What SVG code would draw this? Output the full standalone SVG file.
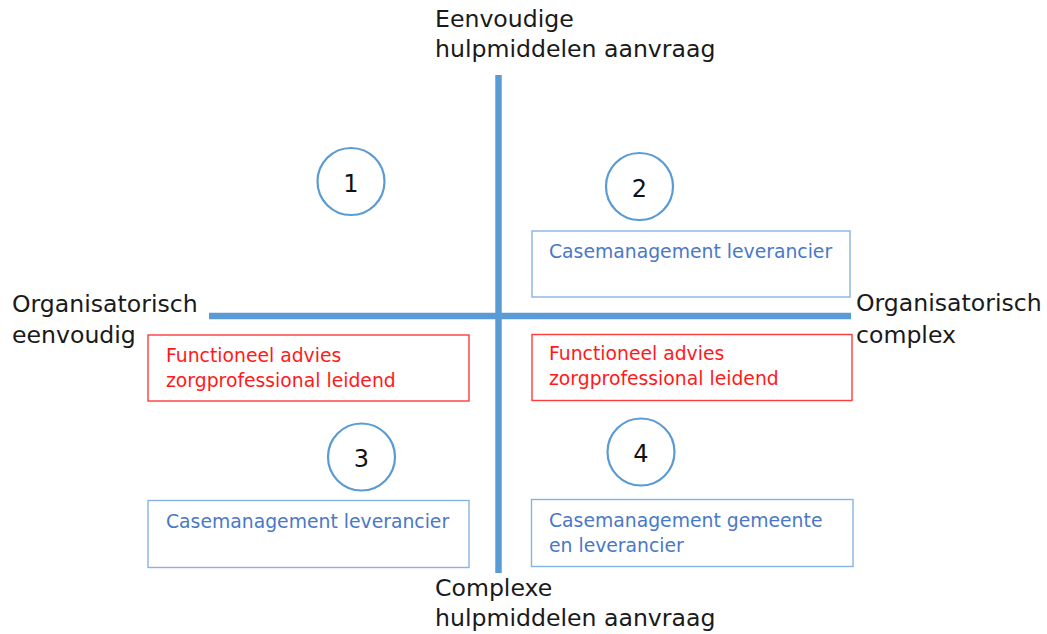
<svg xmlns="http://www.w3.org/2000/svg" width="1047" height="634" viewBox="0 0 1047 634">
<style>
.lbl{font-family:"DejaVu Sans","Verdana",sans-serif;font-size:23.6px;fill:#1a1a1a}
.num{font-family:"DejaVu Sans","Verdana",sans-serif;font-size:24px;fill:#111;text-anchor:middle}
.bt{font-family:"DejaVu Sans","Verdana",sans-serif;font-size:18.8px}
.blue{fill:#4a78c8}
.red{fill:#ff1a1a}
.circ{fill:#fff;stroke:#5b9bd5;stroke-width:2.2}
.bbox{fill:#fff;stroke:#86b4e2;stroke-width:1.4}
.rbox{fill:#fff;stroke:#ff3b3b;stroke-width:1.4}
.axis{stroke:#5b9bd5;stroke-width:6.5}
</style>
<rect width="1047" height="634" fill="#fff"/>
<g id="connectors">
<line class="axis" x1="498.5" y1="75" x2="498.5" y2="573"/>
<line class="axis" x1="209" y1="316" x2="851" y2="316"/>
</g>
<g id="label-top">
<text class="lbl" x="435" y="27">Eenvoudige</text>
<text class="lbl" x="435" y="57">hulpmiddelen aanvraag</text>
</g>
<g id="label-bottom">
<text class="lbl" x="435" y="596">Complexe</text>
<text class="lbl" x="435" y="626">hulpmiddelen aanvraag</text>
</g>
<g id="label-left">
<text class="lbl" x="12" y="312">Organisatorisch</text>
<text class="lbl" x="12" y="343">eenvoudig</text>
</g>
<g id="label-right">
<text class="lbl" x="856" y="311">Organisatorisch</text>
<text class="lbl" x="856" y="343">complex</text>
</g>
<g id="circle-1">
<circle class="circ" cx="351" cy="181.5" r="33.5"/>
<text class="num" x="351" y="191.5">1</text>
</g>
<g id="circle-2">
<circle class="circ" cx="639.5" cy="186.5" r="33.5"/>
<text class="num" x="639.5" y="196.5">2</text>
</g>
<g id="circle-3">
<circle class="circ" cx="361.5" cy="457" r="33.5"/>
<text class="num" x="361.5" y="467">3</text>
</g>
<g id="circle-4">
<circle class="circ" cx="641" cy="452" r="33.5"/>
<text class="num" x="641" y="462">4</text>
</g>
<g id="box-q2-blue">
<rect class="bbox" x="532" y="231" width="318" height="66"/>
<text class="bt blue" x="549" y="258">Casemanagement leverancier</text>
</g>
<g id="box-q2-red">
<rect class="rbox" x="532" y="334.5" width="320" height="66"/>
<text class="bt red" x="549" y="360">Functioneel advies</text>
<text class="bt red" x="549" y="385">zorgprofessional leidend</text>
</g>
<g id="box-q1-red">
<rect class="rbox" x="148" y="335" width="321" height="66"/>
<text class="bt red" x="166" y="362">Functioneel advies</text>
<text class="bt red" x="166" y="387">zorgprofessional leidend</text>
</g>
<g id="box-q3-blue">
<rect class="bbox" x="148" y="500.5" width="321" height="67"/>
<text class="bt blue" x="166" y="528">Casemanagement leverancier</text>
</g>
<g id="box-q4-blue">
<rect class="bbox" x="531.5" y="499.5" width="321.5" height="67"/>
<text class="bt blue" x="549" y="527">Casemanagement gemeente</text>
<text class="bt blue" x="549" y="552">en leverancier</text>
</g>
</svg>
